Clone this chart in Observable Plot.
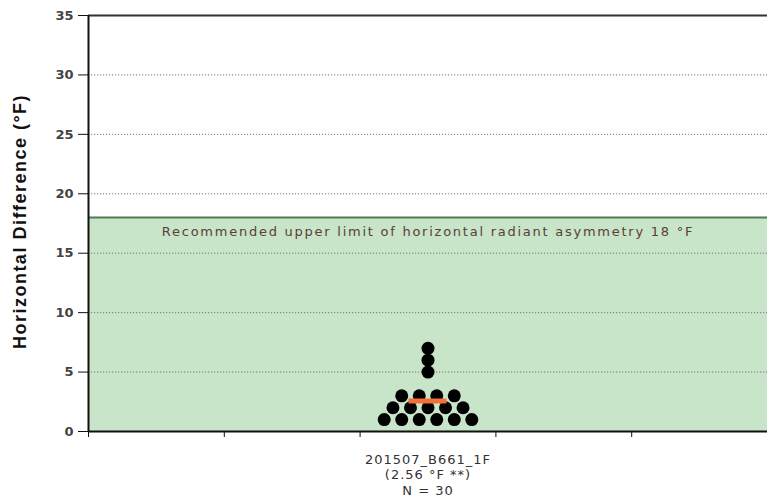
<!DOCTYPE html>
<html><head><meta charset="utf-8">
<script src="https://cdn.jsdelivr.net/npm/d3@7"></script>
<script src="https://cdn.jsdelivr.net/npm/@observablehq/plot@0.6"></script>
<style>
body{margin:0;background:#fff}
#chart svg{display:block}
.limit-label text{letter-spacing:1.75px}
.cat-label text{letter-spacing:1px}
.y-label text{letter-spacing:1.5px}
</style>
</head><body><div id="chart"></div>
<script>
const categories = ["201507_B661_1F"];
const values = [1,1,1,1,1,1,2,2,2,2,2,3,3,3,3,5,6,7];
const meanValue = 2.56;
const nCount = 30;
const limitValue = 18;
const limitLabel = "Recommended upper limit of horizontal radiant asymmetry 18 °F";
const yTicks = [0,5,10,15,20,25,30,35];
const gridTicks = [5,10,15,20,25,30];
const xTicks = [0,1,2,3,4,5];
const yLabel = "Horizontal Difference (°F)";

const xDomain = [0, 5];
const center = 2.5;
const step = 0.129;

// arrange each value group in a centered row
const groups = d3.group(values, v => v);
const points = [];
for (const [v, arr] of groups) {
  arr.forEach((_, i) => points.push({value: v, pos: center + (i - (arr.length - 1) / 2) * step}));
}

const font = "DejaVu Sans, Verdana, sans-serif";

const chart = Plot.plot({
  width: 767,
  height: 501,
  marginLeft: 88,
  marginRight: 0,
  marginTop: 15,
  marginBottom: 70,
  style: {fontFamily: font, fontSize: "12px", color: "#333", background: "#fff"},
  x: {domain: xDomain, axis: null},
  y: {domain: [0, 35], axis: null},
  marks: [
    Plot.rect([limitValue], {x1: xDomain[0], x2: xDomain[1], y1: 0, y2: d => d, fill: "#c8e4c9"}),
    Plot.ruleY(gridTicks, {stroke: "#777", strokeDasharray: "1.2,1.8", strokeWidth: 1}),
    Plot.ruleY([limitValue], {stroke: "#4f7f4f", strokeWidth: 2}),
    Plot.text([limitLabel], {x: center, y: limitValue, dy: 14, text: d => d, fill: "#5a4038", fontSize: 13, className: "limit-label"}),
    Plot.ruleY([35], {stroke: "#333", strokeWidth: 2}),
    Plot.ruleY([0], {stroke: "#111", strokeWidth: 2}),
    Plot.ruleX([xDomain[0]], {y1: 0, y2: 35, stroke: "#111", strokeWidth: 2}),
    Plot.axisY({ticks: yTicks, tickSize: 10, tickPadding: 5, tickFormat: d => d, label: null, stroke: "#111", fill: "#444", fontWeight: "bold", fontSize: 13}),
    Plot.axisX({ticks: xTicks, tickSize: 6, tickFormat: () => "", label: null, stroke: "#111"}),
    Plot.dot(points, {x: "pos", y: "value", r: 6.5, fill: "#000", stroke: null}),
    Plot.ruleY([meanValue], {x1: center - 0.14, x2: center + 0.14, stroke: "#f07035", strokeWidth: 5}),
    Plot.text(categories, {x: center, y: 0, dy: 21, lineAnchor: "top", lineHeight: 1.2, fontSize: 13, fill: "#333", className: "cat-label",
      text: d => `${d}\n(${meanValue} °F **)\nN = ${nCount}`}),
    Plot.text([yLabel], {frameAnchor: "left", dx: -68, dy: -2, rotate: -90, textAnchor: "middle", text: d => d, fontSize: 18, fontWeight: "bold", fill: "#111", fontFamily: "Liberation Sans, Arial, sans-serif", className: "y-label"})
  ]
});
document.getElementById("chart").append(chart);
</script>
</body></html>
